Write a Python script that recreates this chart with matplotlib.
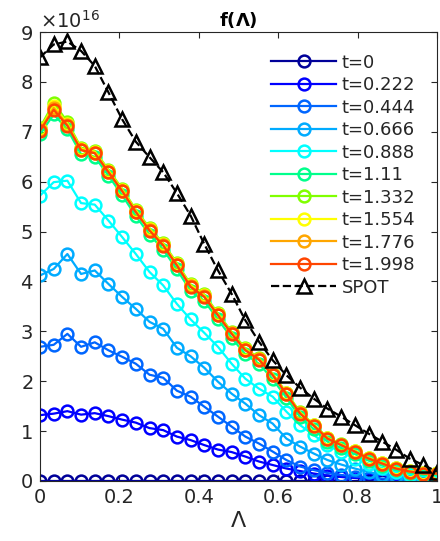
import numpy as np
import matplotlib
matplotlib.use("Agg")
import matplotlib.pyplot as plt
from matplotlib.ticker import ScalarFormatter

# Lambda grid (30 samples on [0, 1])
lam = np.linspace(0, 1, 30)

times = ["0", "0.222", "0.444", "0.666", "0.888", "1.11", "1.332", "1.554", "1.776", "1.998"]
colors = [
    (0.0, 0.0, 0.6), (0.0, 0.0, 1.0), (0.0, 0.4, 1.0), (0.0, 0.67, 1.0), (0.0, 1.0, 1.0),
    (0.0, 1.0, 0.55), (0.5, 1.0, 0.0), (1.0, 1.0, 0.0), (1.0, 0.65, 0.0), (1.0, 0.27, 0.0),
]

# values in units of 1e16
f_t0 = [0.0] * 30
f_t0222 = [1.32, 1.35, 1.40, 1.33, 1.36, 1.30, 1.23, 1.17, 1.06, 1.02, 0.89, 0.82, 0.72, 0.63, 0.58,
           0.49, 0.39, 0.32, 0.25, 0.20, 0.15, 0.11, 0.08, 0.06, 0.04, 0.03, 0.02, 0.02, 0.01, 0.01]
f_t0444 = [2.69, 2.73, 2.95, 2.69, 2.78, 2.62, 2.49, 2.35, 2.13, 2.07, 1.81, 1.69, 1.49, 1.29, 1.09,
           0.89, 0.75, 0.59, 0.42, 0.29, 0.22, 0.16, 0.12, 0.09, 0.07, 0.05, 0.04, 0.03, 0.03, 0.02]
f_t0666 = [4.12, 4.25, 4.55, 4.15, 4.22, 3.95, 3.69, 3.45, 3.19, 3.05, 2.67, 2.50, 2.27, 1.99, 1.75,
           1.55, 1.32, 1.15, 0.85, 0.69, 0.55, 0.42, 0.33, 0.25, 0.18, 0.13, 0.10, 0.07, 0.06, 0.05]
f_t0888 = [5.72, 5.99, 6.02, 5.57, 5.54, 5.22, 4.89, 4.55, 4.19, 3.92, 3.55, 3.24, 2.97, 2.69, 2.35,
           2.05, 1.85, 1.69, 1.39, 1.12, 0.92, 0.72, 0.58, 0.45, 0.35, 0.26, 0.18, 0.13, 0.10, 0.08]
f_t1110 = [6.95, 7.35, 7.05, 6.55, 6.50, 6.12, 5.73, 5.31, 4.94, 4.64, 4.24, 3.81, 3.61, 3.24, 2.87,
           2.54, 2.35, 2.04, 1.67, 1.28, 1.04, 0.79, 0.66, 0.54, 0.41, 0.31, 0.22, 0.16, 0.12, 0.12]
f_t1332 = [7.08, 7.58, 7.20, 6.68, 6.62, 6.24, 5.86, 5.44, 5.07, 4.77, 4.37, 3.94, 3.74, 3.36, 2.99,
           2.66, 2.46, 2.15, 1.77, 1.38, 1.13, 0.87, 0.74, 0.61, 0.47, 0.37, 0.27, 0.20, 0.16, 0.16]
f_t1554 = [7.05, 7.52, 7.16, 6.66, 6.60, 6.22, 5.84, 5.42, 5.05, 4.75, 4.35, 3.92, 3.72, 3.34, 2.97,
           2.64, 2.45, 2.14, 1.76, 1.37, 1.12, 0.86, 0.73, 0.60, 0.46, 0.36, 0.26, 0.20, 0.16, 0.16]
f_t1776 = [7.03, 7.48, 7.14, 6.64, 6.58, 6.20, 5.82, 5.40, 5.03, 4.73, 4.33, 3.90, 3.70, 3.33, 2.96,
           2.63, 2.44, 2.13, 1.75, 1.36, 1.11, 0.85, 0.72, 0.59, 0.45, 0.35, 0.25, 0.19, 0.15, 0.15]
f_t1998 = [7.02, 7.44, 7.12, 6.63, 6.57, 6.19, 5.81, 5.39, 5.02, 4.72, 4.32, 3.89, 3.69, 3.32, 2.95,
           2.62, 2.43, 2.12, 1.74, 1.35, 1.11, 0.85, 0.72, 0.59, 0.45, 0.35, 0.25, 0.19, 0.15, 0.15]
f_spot = [8.49, 8.75, 8.81, 8.62, 8.32, 7.79, 7.25, 6.80, 6.49, 6.19, 5.77, 5.32, 4.75, 4.22, 3.75,
          3.22, 2.79, 2.42, 2.12, 1.87, 1.65, 1.45, 1.29, 1.12, 0.95, 0.79, 0.63, 0.45, 0.32, 0.19]

series = [f_t0, f_t0222, f_t0444, f_t0666, f_t0888, f_t1110, f_t1332, f_t1554, f_t1776, f_t1998]
scale = 1e16
text_col = "#262626"

fig = plt.figure(figsize=(4.4, 5.41), dpi=100)
ax = fig.add_axes([40 / 440, 60 / 541, 397 / 440, 449 / 541])

for t, c, vals in zip(times, colors, series):
    ax.plot(lam, np.array(vals) * scale, "-o", color=c, lw=1.6, ms=8.5,
            mfc="none", mew=1.8, label=f"t={t}")
ax.plot(lam, np.array(f_spot) * scale, "--^", color="k", lw=1.6, ms=9.5,
        mfc="none", mew=1.8, label="SPOT")

ax.set_xlim(0, 1)
ax.set_ylim(0, 9e16)
ax.set_xticks([0, 0.2, 0.4, 0.6, 0.8, 1])
ax.set_xticklabels(["0", "0.2", "0.4", "0.6", "0.8", "1"])
ax.set_yticks(np.arange(0, 10) * scale)

fmt = ScalarFormatter(useMathText=True)
fmt.set_powerlimits((0, 0))
ax.yaxis.set_major_formatter(fmt)
ax.yaxis.get_offset_text().set_fontsize(14)
ax.yaxis.get_offset_text().set_color(text_col)

ax.tick_params(direction="in", top=True, right=True, length=4, labelsize=14,
               colors=text_col, pad=5)
for sp in ax.spines.values():
    sp.set_color(text_col)
    sp.set_linewidth(0.8)

ax.set_title(r"f($\mathbf{\Lambda}$)", fontsize=13, fontweight="bold", pad=4)
ax.set_xlabel(r"$\Lambda$", fontsize=16, family="serif", color=text_col, labelpad=2)

leg = ax.legend(loc="upper right", frameon=False, fontsize=13, handlelength=3.6,
                labelspacing=0.25, handletextpad=0.3, borderaxespad=0.8)
for txt in leg.get_texts():
    txt.set_color(text_col)

fig.savefig("out.png", dpi=100)
